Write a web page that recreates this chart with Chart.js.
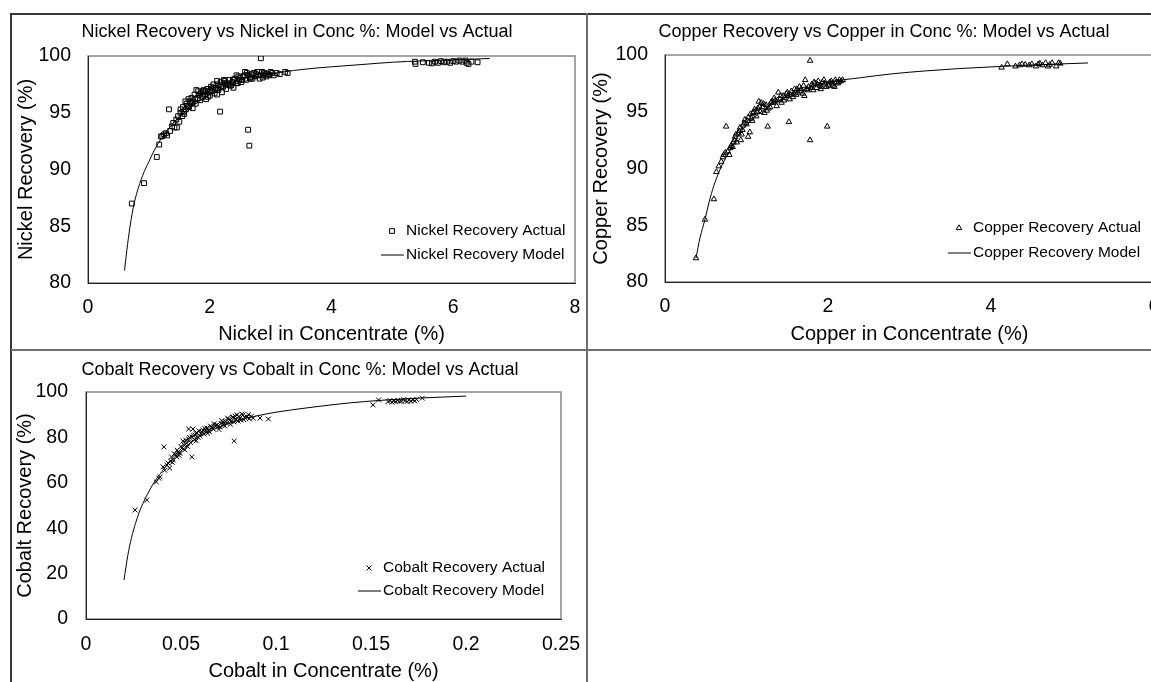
<!DOCTYPE html>
<html>
<head>
<meta charset="utf-8">
<title>Recovery vs Grade in Concentrate: Model vs Actual</title>
<script src="https://cdn.jsdelivr.net/npm/chart.js@4.4.0/dist/chart.umd.min.js"></script>
<style>
  html, body { margin: 0; padding: 0; background: #fff; overflow: hidden; }
  body { width: 1151px; height: 682px; position: relative; }
  canvas { position: absolute; }
  .rule { position: absolute; }
  #nickelChart { left: 12px; top: 15px; }
  #copperChart { left: 589px; top: 15px; }
  #cobaltChart { left: 12px; top: 351px; }
</style>
</head>
<body>
<canvas id="nickelChart" width="570" height="335"></canvas>
<canvas id="copperChart" width="590" height="335"></canvas>
<canvas id="cobaltChart" width="576" height="340"></canvas>
<div class="rule" style="left:10px;top:13px;width:1141px;height:2px;background:#3a3a3a"></div>
<div class="rule" style="left:10px;top:13px;width:2px;height:669px;background:#3a3a3a"></div>
<div class="rule" style="left:586px;top:13px;width:2px;height:669px;background:#6e6e6e"></div>
<div class="rule" style="left:11px;top:349px;width:1140px;height:2px;background:#6e6e6e"></div>

<script>
// ---- nickel ----
const nickelActualX = [0.72, 0.92, 1.13, 1.17, 1.2, 1.22, 1.25, 1.28, 1.3, 1.33, 1.35, 1.38, 1.4, 1.42, 1.45, 1.46, 1.48, 1.5, 1.52, 1.55,
  1.56, 1.58, 1.6, 1.61, 1.63, 1.65, 1.66, 1.68, 1.7, 1.72, 1.73, 1.75, 1.77, 1.78, 1.8, 1.82, 1.84, 1.86, 1.88, 1.9,
  1.92, 1.94, 1.96, 1.98, 2.0, 2.02, 2.04, 2.06, 2.08, 2.1, 2.12, 2.12, 2.14, 2.16, 2.17, 2.18, 2.2, 2.22, 2.24, 2.25,
  2.27, 2.3, 2.32, 2.35, 2.37, 2.39, 2.41, 2.44, 2.46, 2.48, 2.5, 2.52, 2.55, 2.58, 2.6, 2.62, 2.63, 2.65, 2.66, 2.68,
  2.7, 2.72, 2.75, 2.78, 2.8, 2.82, 2.84, 2.86, 2.88, 2.9, 2.93, 2.96, 3.0, 3.02, 3.05, 3.1, 3.15, 3.24, 3.28,
  1.52, 1.57, 1.62, 1.67, 1.71, 1.76, 1.81, 1.85, 1.89, 1.93, 1.97, 2.01, 2.05, 2.09, 2.13, 2.19, 2.23, 2.28, 2.33, 2.38,
  2.43, 2.47, 2.53, 2.57, 2.61, 2.67, 2.71, 2.76, 2.81, 2.87, 2.92, 2.98,
  5.37, 5.38, 5.5, 5.6, 5.65, 5.7, 5.75, 5.8, 5.85, 5.9, 5.95, 6.0, 6.05, 6.1, 6.15, 6.2, 6.22, 6.25, 6.3, 6.4];
const nickelActualY = [87.0, 88.8, 91.1, 92.2, 92.9, 92.95, 93.1, 93.2, 93.0, 95.3, 93.4, 93.8, 94.1, 93.7, 94.4, 93.7, 94.7, 94.2, 95.0, 94.7,
  95.5, 94.9, 96.0, 95.3, 95.6, 96.2, 95.5, 95.9, 96.3, 95.4, 96.0, 96.6, 95.8, 97.0, 96.3, 96.6, 96.1, 96.8, 96.4, 97.0,
  96.6, 96.2, 97.1, 96.8, 96.5, 97.3, 96.9, 97.5, 96.7, 97.2, 97.8, 96.6, 97.0, 97.4, 95.1, 97.7, 96.8, 97.3, 97.6, 97.8,
  97.1, 97.5, 97.9, 97.4, 97.7, 97.2, 98.0, 98.3, 97.6, 97.9, 98.1, 97.7, 98.2, 98.6, 97.9, 98.3, 93.5, 92.1, 98.1, 98.4,
  98.0, 98.5, 98.2, 98.6, 98.3, 98.0, 99.8, 98.6, 98.3, 98.5, 98.2, 98.4, 98.6, 98.5, 98.3, 98.5, 98.4, 98.6, 98.5,
  95.3, 95.1, 95.8, 96.0, 95.9, 96.2, 96.9, 96.7, 96.9, 96.9, 96.4, 97.0, 97.2, 97.0, 97.5, 97.3, 97.9, 97.6, 97.4, 97.9,
  97.6, 98.2, 97.9, 98.3, 98.5, 98.0, 98.3, 98.4, 98.6, 98.1, 98.4, 98.3,
  99.5, 99.3, 99.45, 99.4, 99.35, 99.5, 99.4, 99.55, 99.45, 99.5, 99.4, 99.55, 99.5, 99.6, 99.5, 99.6, 99.4, 99.3, 99.5, 99.45];
const nickelModelX = [0.6, 0.65, 0.7, 0.75, 0.8, 0.9, 1.0, 1.1, 1.2, 1.3, 1.4, 1.6, 1.8, 2.0, 2.3, 2.6, 3.0, 3.5, 4.0, 4.5, 5.0, 5.5, 6.0, 6.6];
const nickelModelY = [81.1, 83.4, 85.3, 86.8, 87.9, 89.5, 90.7, 91.8, 92.7, 93.4, 94.1, 95.1, 95.9, 96.6, 97.3, 97.8, 98.4, 98.8, 99.05, 99.25, 99.45, 99.57, 99.66, 99.78];
const nickelXTicks = [0, 2, 4, 6, 8];
const nickelYTicks = [80, 85, 90, 95, 100];

// ---- copper ----
const copperActualX = [0.38, 0.49, 0.6, 0.63, 0.66, 0.69, 0.71, 0.74, 0.75, 0.77, 0.79, 0.81, 0.83, 0.85, 0.86, 0.88, 0.9, 0.92, 0.93, 0.95,
  0.96, 0.98, 1.0, 1.02, 1.02, 1.04, 1.05, 1.07, 1.08, 1.1, 1.12, 1.14, 1.15, 1.17, 1.18, 1.2, 1.22, 1.24, 1.26, 1.27,
  1.29, 1.31, 1.33, 1.35, 1.37, 1.39, 1.41, 1.43, 1.45, 1.47, 1.49, 1.51, 1.52, 1.53, 1.55, 1.57, 1.59, 1.61, 1.63, 1.65,
  1.67, 1.69, 1.71, 1.72, 1.74, 1.76, 1.78, 1.78, 1.8, 1.82, 1.84, 1.86, 1.88, 1.9, 1.91, 1.93, 1.96, 1.98, 1.99, 2.0,
  2.02, 2.04, 2.06, 2.08, 2.1, 2.12, 2.14, 2.16, 2.18,
  0.72, 0.8, 0.84, 0.87, 0.91, 0.94, 0.97, 1.01, 1.06, 1.09, 1.13, 1.16, 1.21, 1.25, 1.3, 1.34, 1.38, 1.42, 1.46, 1.5,
  1.54, 1.58, 1.62, 1.66, 1.7, 1.75, 1.79, 1.83, 1.87, 1.92, 1.95, 2.01, 2.05, 2.09, 2.13,
  4.13, 4.2, 4.3, 4.35, 4.38, 4.42, 4.47, 4.5, 4.55, 4.58, 4.6, 4.63, 4.67, 4.7, 4.72, 4.75, 4.8, 4.83, 4.85];
const copperActualY = [82.1, 85.5, 87.3, 89.7, 90.2, 90.6, 91.0, 91.4, 93.7, 91.5, 91.2, 92.0, 91.9, 92.5, 92.8, 92.3, 93.1, 93.6, 92.5, 93.4,
  93.8, 94.3, 93.9, 94.5, 92.8, 93.2, 94.8, 94.2, 94.9, 95.2, 94.6, 95.3, 95.9, 95.0, 95.8, 95.4, 94.9, 95.6, 93.7, 95.3,
  95.4, 95.9, 95.8, 96.0, 95.5, 96.7, 96.1, 95.8, 96.4, 96.2, 96.6, 96.4, 94.1, 96.1, 96.8, 96.3, 97.0, 96.5, 96.7, 97.2,
  97.0, 96.6, 96.4, 97.8, 97.0, 97.2, 99.5, 92.5, 97.4, 96.9, 97.5, 97.1, 97.7, 97.3, 97.0, 97.6, 97.5, 97.2, 93.7, 97.4,
  97.6, 97.7, 97.3, 97.2, 97.6, 97.5, 97.8, 97.7, 97.8,
  91.2, 91.8, 92.3, 93.0, 93.3, 93.0, 94.0, 94.2, 94.4, 95.0, 95.0, 95.4, 95.7, 95.1, 95.8, 96.2, 96.0, 96.4, 96.0, 96.7,
  96.5, 96.6, 97.0, 96.8, 97.3, 96.9, 97.1, 97.6, 97.4, 97.2, 97.8, 97.3, 97.5, 97.8, 97.6,
  98.9, 99.2, 99.0, 99.1, 99.2, 99.15, 99.1, 99.2, 99.0, 99.2, 99.25, 99.1, 99.3, 99.0, 99.15, 99.3, 99.0, 99.3, 99.25];
const copperModelX = [0.38, 0.43, 0.49, 0.54, 0.6, 0.7, 0.8, 0.9, 1.0, 1.2, 1.4, 1.6, 1.8, 2.0, 2.4, 2.8, 3.2, 3.6, 4.0, 4.5, 5.19];
const copperModelY = [82.1, 83.9, 85.5, 87.0, 88.5, 90.3, 91.6, 92.9, 93.8, 95.1, 96.0, 96.7, 97.2, 97.6, 98.0, 98.35, 98.6, 98.8, 98.95, 99.12, 99.3];
const copperXTicks = [0, 2, 4, 6];
const copperYTicks = [80, 85, 90, 95, 100];

// ---- cobalt ----
const cobaltActualX = [0.0258, 0.032, 0.037, 0.0384, 0.039, 0.0405, 0.041, 0.0415, 0.0426, 0.0432, 0.044, 0.045, 0.0455, 0.046, 0.047, 0.0478, 0.048, 0.049, 0.0495, 0.0505,
  0.051, 0.052, 0.053, 0.0535, 0.054, 0.054, 0.055, 0.0557, 0.0557, 0.0563, 0.057, 0.0574, 0.058, 0.0584, 0.059, 0.06, 0.061, 0.062, 0.063, 0.0637,
  0.064, 0.065, 0.066, 0.067, 0.068, 0.069, 0.07, 0.0705, 0.071, 0.072, 0.073, 0.074, 0.075, 0.0758, 0.076, 0.0774, 0.078, 0.078, 0.079, 0.0795,
  0.08, 0.081, 0.082, 0.0826, 0.083, 0.0847, 0.086, 0.088, 0.0916, 0.096,
  0.0445, 0.0465, 0.0485, 0.05, 0.0515, 0.0525, 0.0545, 0.0565, 0.0578, 0.0595, 0.0605, 0.0615, 0.0625, 0.0645, 0.0655,
  0.0665, 0.0675, 0.0695, 0.0715, 0.0725, 0.0735, 0.0745, 0.0765, 0.077, 0.0785, 0.0805, 0.0815, 0.0835, 0.0855, 0.087,
  0.151, 0.154, 0.159, 0.16, 0.161, 0.162, 0.163, 0.164, 0.165, 0.166, 0.167, 0.168, 0.169, 0.17, 0.171, 0.172, 0.173, 0.174, 0.177];
const cobaltActualY = [48.0, 52.4, 60.4, 62.0, 62.6, 67.0, 75.8, 65.5, 67.8, 68.7, 66.5, 71.4, 69.0, 70.0, 72.5, 71.4, 74.4, 72.0, 73.0, 75.3,
  78.4, 74.5, 77.5, 76.0, 79.3, 83.7, 77.8, 71.4, 80.2, 83.7, 79.0, 81.0, 78.5, 82.0, 80.0, 80.6, 82.4, 81.5, 83.0, 84.1,
  81.8, 82.4, 84.5, 83.7, 85.2, 85.5, 83.5, 84.6, 86.2, 86.8, 85.0, 86.3, 88.0, 87.7, 85.8, 89.0, 86.8, 78.4, 88.0, 89.9,
  87.2, 88.5, 90.3, 89.9, 87.8, 89.0, 88.2, 88.5, 88.5, 88.1,
  69.5, 72.8, 73.5, 76.0, 76.8, 78.8, 80.0, 80.8, 81.8, 82.9, 81.6, 83.3, 84.0, 83.0, 85.0,
  84.2, 86.0, 84.8, 87.4, 85.6, 87.0, 88.5, 87.2, 88.8, 89.4, 89.2, 87.6, 88.8, 90.0, 89.3,
  94.3, 96.5, 95.8, 96.2, 95.5, 96.0, 95.8, 96.3, 95.9, 96.0, 96.6, 96.2, 95.8, 96.4, 96.0, 96.5, 96.1, 96.7, 97.3];
const cobaltModelX = [0.02, 0.022, 0.024, 0.026, 0.028, 0.03, 0.035, 0.04, 0.045, 0.05, 0.055, 0.06, 0.07, 0.08, 0.09, 0.1, 0.12, 0.14, 0.16, 0.18, 0.2];
const cobaltModelY = [17.2, 28, 36, 42, 47, 51, 59, 65, 70, 74, 77.5, 80.5, 84.5, 87.5, 89.5, 91.1, 93.4, 95.3, 96.6, 97.5, 98.2];
const cobaltXTicks = [0, 0.05, 0.1, 0.15, 0.2, 0.25];
const cobaltYTicks = [0, 20, 40, 60, 80, 100];

Chart.defaults.font.family = '"Liberation Sans", Arial, sans-serif';
Chart.defaults.color = '#000';

function toPoints(xs, ys) {
  return xs.map((x, i) => ({ x: x, y: ys[i] }));
}

// 0.1 rather than 0.10, like the original axis
function tickText(v) {
  return String(Number(Number(v).toFixed(6)));
}

function drawMarker(ctx, style, x, y, r) {
  ctx.beginPath();
  if (style === 'rect') {
    const h = r * Math.SQRT1_2;
    ctx.rect(x - h, y - h, 2 * h, 2 * h);
  } else if (style === 'triangle') {
    ctx.moveTo(x, y - r);
    ctx.lineTo(x + r * 0.866, y + r * 0.5);
    ctx.lineTo(x - r * 0.866, y + r * 0.5);
    ctx.closePath();
  } else {
    const h = r * Math.SQRT1_2;
    ctx.moveTo(x - h, y - h); ctx.lineTo(x + h, y + h);
    ctx.moveTo(x - h, y + h); ctx.lineTo(x + h, y - h);
  }
  ctx.stroke();
}

// grey plot-area frame, drawn before the axes so the black axis lines sit on top
const plotFrame = {
  id: 'plotFrame',
  beforeDraw(chart) {
    const { ctx, chartArea: a } = chart;
    ctx.save();
    ctx.strokeStyle = '#878787';
    ctx.lineWidth = 1.5;
    ctx.strokeRect(a.left, a.top, a.right - a.left, a.bottom - a.top);
    ctx.restore();
  }
};

// legend sitting in the lower right corner of the plot area
const insideLegend = {
  id: 'insideLegend',
  afterDatasetsDraw(chart, args, opts) {
    const { ctx, chartArea: a } = chart;
    const x0 = a.right - opts.fromRight;
    ctx.save();
    ctx.font = '15.5px "Liberation Sans", Arial, sans-serif';
    ctx.textBaseline = 'middle';
    ctx.textAlign = 'left';
    ctx.strokeStyle = '#000';
    ctx.fillStyle = '#000';
    ctx.lineWidth = 1;
    chart.data.datasets.forEach((ds, i) => {
      const y = a.bottom - opts.bottom + i * opts.gap;
      if (ds.showLine) {
        ctx.beginPath();
        ctx.moveTo(x0 - 24, y);
        ctx.lineTo(x0 - 1, y);
        ctx.stroke();
      } else {
        drawMarker(ctx, ds.pointStyle, x0 - 13, y, opts.markerRadius);
      }
      ctx.fillText(ds.label, x0 + 1, y);
    });
    ctx.restore();
  }
};

function buildChart(id, s) {
  const tickFont = { size: 19.5 };
  const axisFont = { size: 20 };
  return new Chart(document.getElementById(id), {
    type: 'scatter',
    data: {
      datasets: [
        {
          label: s.labels[0],
          data: toPoints(s.actualX, s.actualY),
          pointStyle: s.marker,
          pointRadius: s.markerRadius,
          borderColor: '#000',
          backgroundColor: 'rgba(0,0,0,0)',
          borderWidth: 1,
          order: 1
        },
        {
          label: s.labels[1],
          data: toPoints(s.modelX, s.modelY),
          showLine: true,
          pointRadius: 0,
          borderColor: '#000',
          borderWidth: 1,
          cubicInterpolationMode: 'monotone',
          order: 0
        }
      ]
    },
    options: {
      responsive: false,
      animation: false,
      events: [],
      layout: { padding: 0 },
      plugins: {
        legend: { display: false },
        tooltip: { enabled: false },
        title: {
          display: true,
          text: s.title,
          color: '#000',
          font: { size: 18, weight: 'normal' },
          padding: { top: s.titleTop, bottom: s.titleBottom }
        },
        insideLegend: { fromRight: s.legendFromRight, bottom: s.legendBottom, gap: s.legendGap, markerRadius: s.markerRadius }
      },
      scales: {
        x: {
          type: 'linear',
          min: s.xTicks[0],
          max: s.xTicks[s.xTicks.length - 1],
          afterBuildTicks: sc => { sc.ticks = s.xTicks.map(v => ({ value: v })); },
          afterFit: sc => {
            sc.height = s.xAxisHeight;
            // the edge labels may hang outside the plot, as in the original
            sc.paddingLeft = 0;
            sc.paddingRight = 0;
          },
          grid: { display: false, drawTicks: false },
          border: { display: true, color: '#222', width: 1 },
          ticks: { padding: s.xTickPad, font: tickFont, color: '#000', maxRotation: 0, callback: tickText },
          title: { display: true, text: s.xTitle, color: '#000', font: axisFont, padding: { top: 0, bottom: s.xTitlePad } }
        },
        y: {
          type: 'linear',
          min: s.yTicks[0],
          max: s.yTicks[s.yTicks.length - 1],
          afterBuildTicks: sc => { sc.ticks = s.yTicks.map(v => ({ value: v })); },
          afterFit: sc => { sc.width = s.yAxisWidth; },
          grid: { display: false, drawTicks: false },
          border: { display: true, color: '#222', width: 1 },
          ticks: { padding: s.yTickPad, font: tickFont, color: '#000', callback: tickText },
          title: { display: true, text: s.yTitle, color: '#000', font: axisFont, padding: { top: s.yTitlePad, bottom: 0 } }
        },
        // empty right-hand axis only used to hold the gap to the right of the plot
        yGap: {
          type: 'linear',
          position: 'right',
          afterFit: sc => { sc.width = s.rightGap; },
          grid: { display: false, drawTicks: false },
          border: { display: false },
          ticks: { display: false }
        }
      }
    },
    plugins: [plotFrame, insideLegend]
  });
}

buildChart('nickelChart', {
  title: 'Nickel Recovery vs Nickel in Conc %: Model vs Actual',
  labels: ['Nickel Recovery Actual', 'Nickel Recovery Model'],
  xTitle: 'Nickel in Concentrate (%)',
  yTitle: 'Nickel Recovery (%)',
  actualX: nickelActualX, actualY: nickelActualY,
  modelX: nickelModelX, modelY: nickelModelY,
  xTicks: nickelXTicks, yTicks: nickelYTicks,
  marker: 'rect', markerRadius: 3.4,
  titleTop: 6, titleBottom: 13.4,
  yAxisWidth: 76, yTickPad: 17, yTitlePad: 2,
  xAxisHeight: 67, xTickPad: 13, xTitlePad: 3.5,
  rightGap: 7,
  legendFromRight: 170, legendBottom: 52, legendGap: 24
});

buildChart('copperChart', {
  title: 'Copper Recovery vs Copper in Conc %: Model vs Actual',
  labels: ['Copper Recovery Actual', 'Copper Recovery Model'],
  xTitle: 'Copper in Concentrate (%)',
  yTitle: 'Copper Recovery (%)',
  actualX: copperActualX, actualY: copperActualY,
  modelX: copperModelX, modelY: copperModelY,
  xTicks: copperXTicks, yTicks: copperYTicks,
  marker: 'triangle', markerRadius: 3.2,
  titleTop: 6.2, titleBottom: 12.2,
  yAxisWidth: 76, yTickPad: 17, yTitlePad: 0,
  xAxisHeight: 68, xTickPad: 13, xTitlePad: 4,
  rightGap: 25,
  legendFromRight: 182, legendBottom: 54, legendGap: 25
});

buildChart('cobaltChart', {
  title: 'Cobalt Recovery vs Cobalt in Conc %: Model vs Actual',
  labels: ['Cobalt Recovery Actual', 'Cobalt Recovery Model'],
  xTitle: 'Cobalt in Concentrate (%)',
  yTitle: 'Cobalt Recovery (%)',
  actualX: cobaltActualX, actualY: cobaltActualY,
  modelX: cobaltModelX, modelY: cobaltModelY,
  xTicks: cobaltXTicks, yTicks: cobaltYTicks,
  marker: 'crossRot', markerRadius: 3.4,
  titleTop: 8.2, titleBottom: 11.2,
  yAxisWidth: 74, yTickPad: 18, yTitlePad: 1,
  xAxisHeight: 72, xTickPad: 14, xTitlePad: 8,
  rightGap: 27,
  legendFromRight: 179, legendBottom: 51, legendGap: 23
});
</script>
</body>
</html>
